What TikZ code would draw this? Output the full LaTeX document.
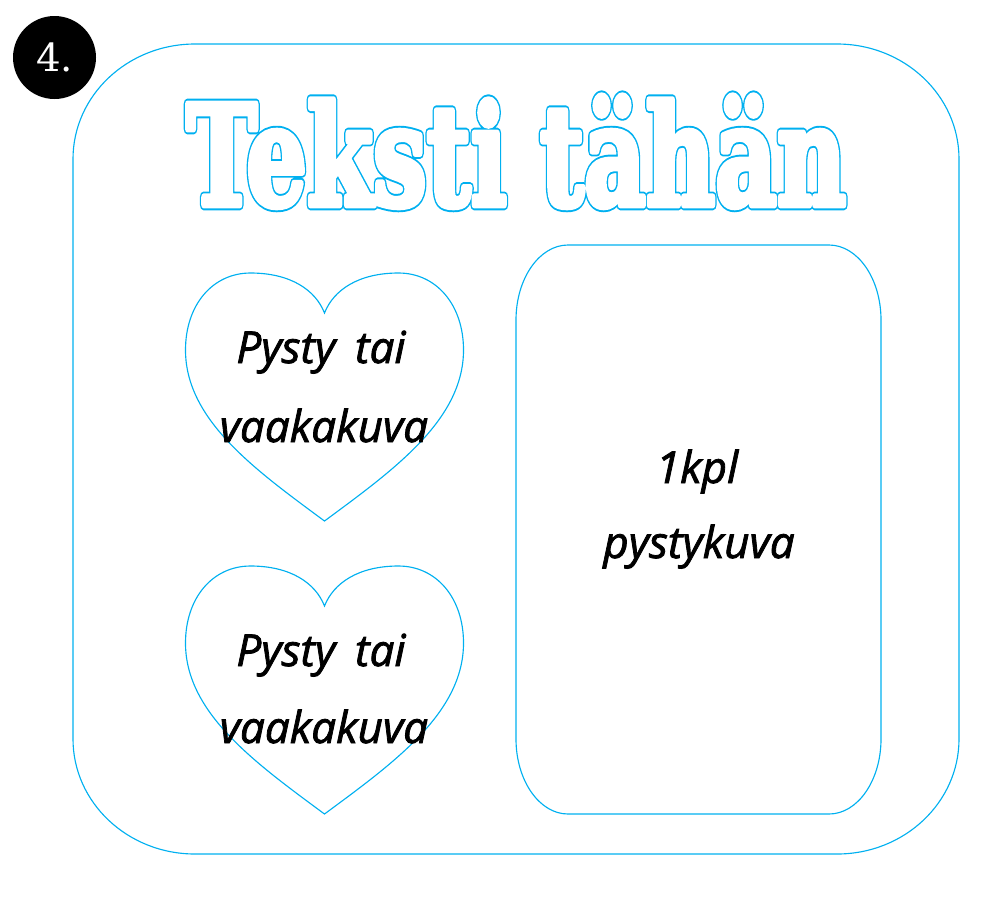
\documentclass[tikz,border=0pt]{standalone}
\usepackage{fontspec}
\usepackage{graphicx}
\newfontfamily\titlefont{DejaVu Serif}[BoldFont=* Bold]
\newfontfamily\badgefont{DejaVu Serif}
\newfontfamily\handfont{Open Sans}[ItalicFeatures={FakeBold=1.8}]
\definecolor{tcyan}{RGB}{0,176,240}
\newcommand\titletext{Teksti tähän}
\newcommand\outlinetitle{%
  \rlap{\special{pdf:literal direct 1 Tr 1 j 7.6 w}\textcolor{tcyan}{\titletext}\special{pdf:literal direct 0 Tr}}%
  \special{pdf:literal direct 2 Tr 1 j 4.8 w}\textcolor{white}{\titletext}\special{pdf:literal direct 0 Tr}}
\tikzset{
  cyanline/.style={draw=tcyan, line width=0.85pt},
  hand/.style={anchor=base, inner sep=0pt, font=\handfont\itshape\fontsize{33}{40}\selectfont},
  heart/.pic={
    \draw[cyanline] (0,0) .. controls (-69,-51) and (-139,-101) .. (-139,-171)
      .. controls (-139,-216) and (-112,-248) .. (-74,-248)
      .. controls (-34,-248) and (-9,-231) .. (0,-208)
      .. controls (9,-231) and (34,-248) .. (74,-248)
      .. controls (112,-248) and (139,-216) .. (139,-171)
      .. controls (139,-101) and (69,-51) .. (0,0) -- cycle;
  }
}
\begin{document}
\begin{tikzpicture}[x=0.75pt, y=-0.75pt]
\useasboundingbox (0,0) rectangle (999,901);
% outer frame
\draw[cyanline] (195,44) -- (837,44) .. controls (904.4,44) and (959,95.5) .. (959,159)
  -- (959,739) .. controls (959,802.5) and (904.4,854) .. (837,854)
  -- (195,854) .. controls (127.6,854) and (73,802.5) .. (73,739)
  -- (73,159) .. controls (73,95.5) and (127.6,44) .. (195,44) -- cycle;
% badge
\node[circle, fill=black, text=white, minimum size=62.25pt, inner sep=0pt,
      font=\badgefont\fontsize{29}{29}\selectfont] (badge) at (54.5,57.5) {4.};
% title
\node[anchor=base west, inner sep=0pt] (title) at (186,205)
  {\resizebox{495pt}{82pt}{\titlefont\bfseries\fontsize{100}{100}\selectfont\outlinetitle}};
% hearts
\pic at (324.5,521) {heart};
\pic at (324.5,814) {heart};
\node[hand] (h1a) at (321,363) {Pysty\hspace{0.45em}tai};
\node[hand] (h1b) at (324,442) {vaakakuva};
\node[hand] (h2a) at (321,666) {Pysty\hspace{0.45em}tai};
\node[hand] (h2b) at (324,743) {vaakakuva};
% photo frame
\draw[cyanline] (568,245) -- (829,245) .. controls (857.7,245) and (881,278.6) .. (881,320)
  -- (881,739) .. controls (881,780.4) and (857.7,814) .. (829,814)
  -- (568,814) .. controls (539.3,814) and (516,780.4) .. (516,739)
  -- (516,320) .. controls (516,278.6) and (539.3,245) .. (568,245) -- cycle;
\node[hand] (r1) at (697,483) {1kpl};
\node[hand] (r2) at (699,558) {pystykuva};
\end{tikzpicture}
\end{document}
